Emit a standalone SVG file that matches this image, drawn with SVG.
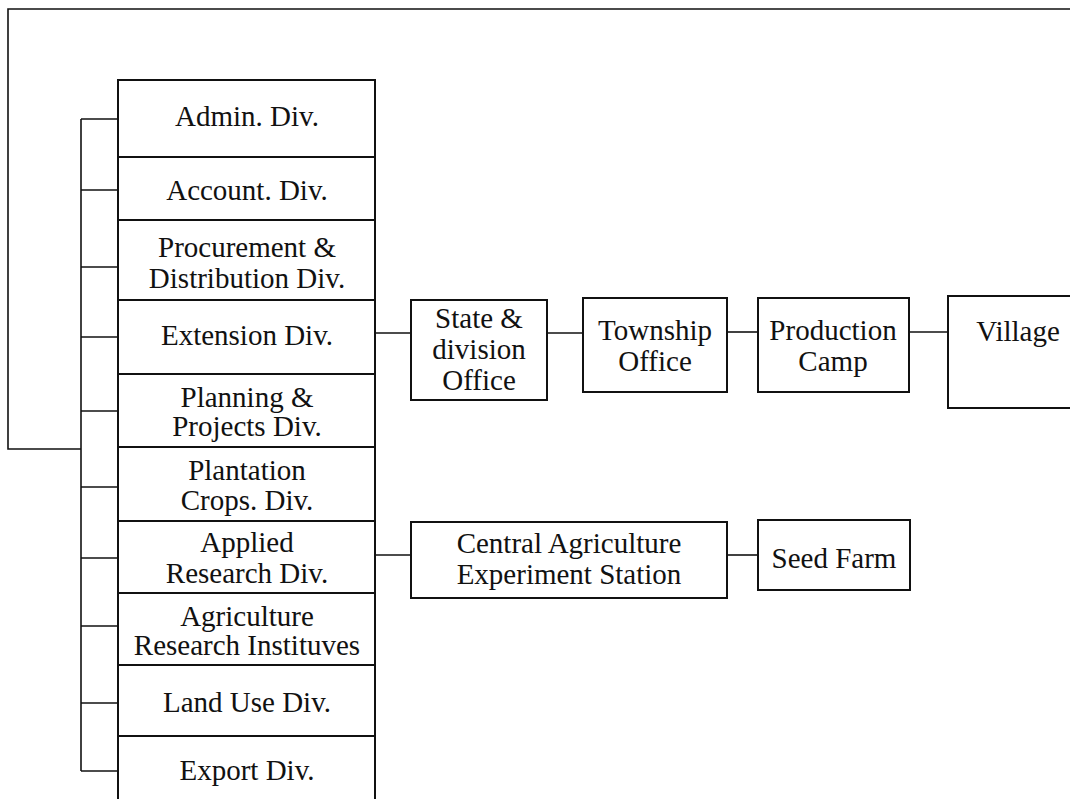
<svg xmlns="http://www.w3.org/2000/svg" width="1070" height="799" viewBox="0 0 1070 799">
  <style>
    .box { fill: none; stroke: #111; stroke-width: 2; }
    .wire { fill: none; stroke: #111; stroke-width: 1.6; }
    .lbl { font-family: "Liberation Serif", "Times New Roman", serif; font-size: 29px; fill: #111; text-anchor: middle; }
  </style>
  <rect width="1070" height="799" fill="#fff"/>

  <!-- connectors -->
  <g id="connectors">
    <!-- outer loop from the upper level down to the division bracket -->
    <polyline class="wire" points="1070,9 8,9 8,449 81,449"/>
    <!-- bracket feeding each division -->
    <line class="wire" x1="81" y1="119" x2="81" y2="771"/>
    <line class="wire" x1="81" y1="119" x2="118" y2="119"/>
    <line class="wire" x1="81" y1="190" x2="118" y2="190"/>
    <line class="wire" x1="81" y1="267" x2="118" y2="267"/>
    <line class="wire" x1="81" y1="337" x2="118" y2="337"/>
    <line class="wire" x1="81" y1="411" x2="118" y2="411"/>
    <line class="wire" x1="81" y1="487" x2="118" y2="487"/>
    <line class="wire" x1="81" y1="558" x2="118" y2="558"/>
    <line class="wire" x1="81" y1="626" x2="118" y2="626"/>
    <line class="wire" x1="81" y1="703" x2="118" y2="703"/>
    <line class="wire" x1="81" y1="771" x2="118" y2="771"/>
    <!-- extension chain -->
    <line class="wire" x1="375" y1="333" x2="411" y2="333"/>
    <line class="wire" x1="547" y1="333" x2="583" y2="333"/>
    <line class="wire" x1="727" y1="332" x2="758" y2="332"/>
    <line class="wire" x1="909" y1="332" x2="948" y2="332"/>
    <!-- research chain -->
    <line class="wire" x1="375" y1="555" x2="411" y2="555"/>
    <line class="wire" x1="727" y1="555" x2="758" y2="555"/>
  </g>

  <!-- division column -->
  <g id="divisions">
    <rect class="box" x="118" y="80" width="257" height="740"/>
    <line class="box" x1="118" y1="157" x2="375" y2="157"/>
    <line class="box" x1="118" y1="220" x2="375" y2="220"/>
    <line class="box" x1="118" y1="300" x2="375" y2="300"/>
    <line class="box" x1="118" y1="374" x2="375" y2="374"/>
    <line class="box" x1="118" y1="447" x2="375" y2="447"/>
    <line class="box" x1="118" y1="521" x2="375" y2="521"/>
    <line class="box" x1="118" y1="593" x2="375" y2="593"/>
    <line class="box" x1="118" y1="665" x2="375" y2="665"/>
    <line class="box" x1="118" y1="736" x2="375" y2="736"/>
  </g>
  <g id="admin"><text class="lbl" x="247" y="126">Admin. Div.</text></g>
  <g id="account"><text class="lbl" x="247" y="200">Account. Div.</text></g>
  <g id="procurement"><text class="lbl" x="247" y="257">Procurement &amp;</text><text class="lbl" x="247" y="288">Distribution Div.</text></g>
  <g id="extension"><text class="lbl" x="247" y="345">Extension Div.</text></g>
  <g id="planning"><text class="lbl" x="247" y="407">Planning &amp;</text><text class="lbl" x="247" y="436">Projects Div.</text></g>
  <g id="plantation"><text class="lbl" x="247" y="480">Plantation</text><text class="lbl" x="247" y="510">Crops. Div.</text></g>
  <g id="applied"><text class="lbl" x="247" y="552">Applied</text><text class="lbl" x="247" y="583">Research Div.</text></g>
  <g id="institutes"><text class="lbl" x="247" y="626">Agriculture</text><text class="lbl" x="247" y="655">Research Instituves</text></g>
  <g id="landuse"><text class="lbl" x="247" y="712">Land Use Div.</text></g>
  <g id="export"><text class="lbl" x="247" y="780">Export Div.</text></g>

  <!-- extension chain nodes -->
  <g id="state">
    <rect class="box" x="411" y="300" width="136" height="100"/>
    <text class="lbl" x="479" y="328">State &amp;</text>
    <text class="lbl" x="479" y="359">division</text>
    <text class="lbl" x="479" y="390">Office</text>
  </g>
  <g id="township">
    <rect class="box" x="583" y="298" width="144" height="94"/>
    <text class="lbl" x="655" y="340">Township</text>
    <text class="lbl" x="655" y="371">Office</text>
  </g>
  <g id="camp">
    <rect class="box" x="758" y="298" width="151" height="94"/>
    <text class="lbl" x="833" y="340">Production</text>
    <text class="lbl" x="833" y="371">Camp</text>
  </g>
  <g id="village">
    <rect class="box" x="948" y="296" width="140" height="112"/>
    <text class="lbl" x="1018" y="341">Village</text>
  </g>

  <!-- research chain nodes -->
  <g id="station">
    <rect class="box" x="411" y="522" width="316" height="76"/>
    <text class="lbl" x="569" y="553">Central Agriculture</text>
    <text class="lbl" x="569" y="584">Experiment Station</text>
  </g>
  <g id="seedfarm">
    <rect class="box" x="758" y="520" width="152" height="70"/>
    <text class="lbl" x="834" y="568">Seed Farm</text>
  </g>
</svg>
